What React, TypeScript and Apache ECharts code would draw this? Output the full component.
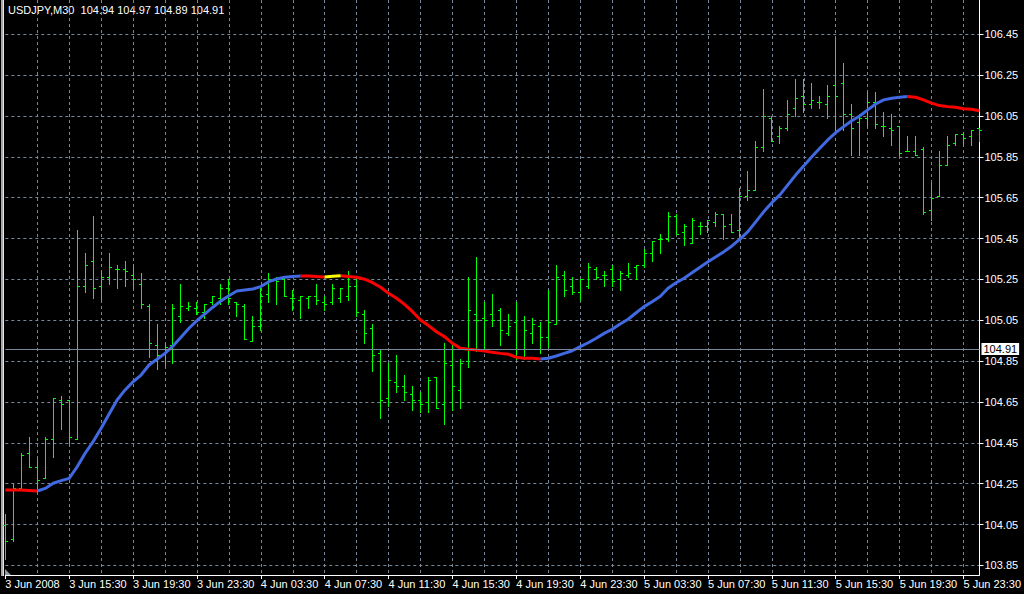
import React, { useEffect, useRef } from "react";
import * as echarts from "echarts";

const TITLE = "USDJPY,M30  104.94 104.97 104.89 104.91";
const currentPrice = 104.91;

const timeLabels = [
  "3 Jun 2008", "3 Jun 15:30", "3 Jun 19:30", "3 Jun 23:30",
  "4 Jun 03:30", "4 Jun 07:30", "4 Jun 11:30", "4 Jun 15:30",
  "4 Jun 19:30", "4 Jun 23:30", "5 Jun 03:30", "5 Jun 07:30",
  "5 Jun 11:30", "5 Jun 15:30", "5 Jun 19:30", "5 Jun 23:30",
];

const priceTicks = [
  103.85, 104.05, 104.25, 104.45, 104.65, 104.85, 105.05,
  105.25, 105.45, 105.65, 105.85, 106.05, 106.25, 106.45,
];

const barOpen = [
  104.05, 103.98, 104.23, 104.40, 104.33, 104.28, 104.47, 104.66, 104.66, 104.47,
  105.22, 105.34, 105.22, 105.26, 105.30, 105.30, 105.27, 105.23, 105.12, 104.93,
  104.89, 104.93, 105.07, 105.11, 105.11, 105.09, 105.14, 105.16, 105.21, 105.14,
  105.12, 104.95, 105.02, 105.18, 105.25, 105.25, 105.16, 105.15, 105.16, 105.17,
  105.14, 105.14, 105.16, 105.17, 105.22, 105.08, 105.01, 104.89, 104.67, 104.75,
  104.73, 104.69, 104.66, 104.65, 104.77, 104.64, 104.83, 104.71, 104.85, 105.08,
  105.06, 105.08, 105.10, 104.99, 105.04, 104.87, 104.99, 105.02, 104.97, 105.03,
  105.27, 105.22, 105.19, 105.22, 105.30, 105.27, 105.30, 105.25, 105.27, 105.31,
  105.32, 105.38, 105.45, 105.45, 105.56, 105.48, 105.43, 105.51, 105.51, 105.53,
  105.57, 105.52, 105.49, 105.66, 105.69, 105.90, 106.04, 105.95, 105.99, 106.09,
  106.15, 106.11, 106.12, 106.11, 106.20, 106.21, 106.06, 106.02, 106.04, 106.12,
  106.00, 105.99, 106.00, 105.88, 105.88, 105.89, 105.59, 105.66, 105.81, 105.92,
  105.96, 105.95, 105.99,
];

const barHigh = [
  104.10, 104.25, 104.40, 104.48, 104.37, 104.48, 104.67, 104.68, 104.66, 105.49,
  105.38, 105.56, 105.29, 105.38, 105.32, 105.34, 105.32, 105.28, 105.13, 105.03,
  104.94, 105.13, 105.23, 105.14, 105.14, 105.13, 105.17, 105.23, 105.25, 105.14,
  105.13, 105.07, 105.22, 105.28, 105.26, 105.26, 105.20, 105.17, 105.17, 105.23,
  105.17, 105.23, 105.21, 105.29, 105.26, 105.10, 105.03, 104.91, 104.84, 104.88,
  104.78, 104.73, 104.70, 104.77, 104.77, 104.94, 104.93, 104.86, 105.26, 105.36,
  105.14, 105.18, 105.11, 105.08, 105.14, 105.07, 105.06, 105.04, 105.20, 105.32,
  105.29, 105.26, 105.25, 105.33, 105.31, 105.29, 105.32, 105.29, 105.33, 105.32,
  105.40, 105.44, 105.47, 105.58, 105.57, 105.52, 105.55, 105.53, 105.54, 105.58,
  105.57, 105.57, 105.70, 105.78, 105.93, 106.18, 106.05, 106.00, 106.13, 106.23,
  106.23, 106.21, 106.15, 106.20, 106.43, 106.31, 106.11, 106.06, 106.17, 106.17,
  106.07, 106.06, 106.00, 105.95, 105.95, 105.90, 105.72, 105.88, 105.95, 105.96,
  105.97, 105.98, 105.99,
];

const barLow = [
  103.88, 103.97, 104.23, 104.33, 104.21, 104.28, 104.38, 104.52, 104.45, 104.47,
  105.19, 105.16, 105.15, 105.23, 105.21, 105.22, 105.21, 105.11, 104.87, 104.81,
  104.83, 104.84, 105.04, 105.10, 105.08, 105.06, 105.13, 105.13, 105.13, 105.07,
  104.96, 104.95, 105.00, 105.14, 105.13, 105.17, 105.10, 105.06, 105.11, 105.13,
  105.10, 105.13, 105.14, 105.15, 105.07, 104.94, 104.80, 104.57, 104.63, 104.70,
  104.66, 104.61, 104.60, 104.60, 104.62, 104.54, 104.61, 104.62, 104.82, 104.90,
  104.90, 105.02, 104.93, 104.98, 104.86, 104.86, 104.94, 104.89, 104.92, 105.03,
  105.17, 105.18, 105.15, 105.21, 105.25, 105.22, 105.22, 105.20, 105.26, 105.25,
  105.31, 105.34, 105.38, 105.44, 105.47, 105.42, 105.43, 105.47, 105.48, 105.51,
  105.45, 105.48, 105.45, 105.64, 105.69, 105.88, 105.93, 105.92, 105.98, 106.05,
  106.07, 106.09, 106.09, 106.04, 105.98, 105.98, 105.86, 105.86, 106.00, 105.99,
  105.95, 105.91, 105.86, 105.88, 105.86, 105.57, 105.54, 105.66, 105.81, 105.91,
  105.91, 105.91, 105.93,
];

const barClose = [
  103.97, 104.23, 104.39, 104.33, 104.27, 104.47, 104.67, 104.64, 104.48, 105.22,
  105.32, 105.21, 105.26, 105.31, 105.30, 105.29, 105.25, 105.13, 104.94, 104.88,
  104.92, 105.11, 105.12, 105.12, 105.09, 105.13, 105.17, 105.21, 105.16, 105.13,
  104.96, 105.02, 105.17, 105.25, 105.24, 105.17, 105.16, 105.17, 105.17, 105.15,
  105.13, 105.21, 105.21, 105.22, 105.09, 104.99, 104.88, 104.66, 104.76, 104.73,
  104.70, 104.66, 104.64, 104.76, 104.62, 104.84, 104.73, 104.84, 105.10, 105.05,
  105.05, 105.05, 105.00, 105.02, 104.87, 105.00, 105.03, 104.97, 105.04, 105.26,
  105.20, 105.19, 105.25, 105.31, 105.26, 105.27, 105.24, 105.28, 105.28, 105.32,
  105.38, 105.44, 105.45, 105.56, 105.47, 105.51, 105.54, 105.51, 105.54, 105.57,
  105.51, 105.48, 105.66, 105.69, 105.90, 106.05, 105.93, 105.99, 106.06, 106.14,
  106.11, 106.13, 106.12, 106.15, 106.15, 106.06, 105.99, 106.04, 106.12, 106.01,
  106.00, 105.98, 105.87, 105.88, 105.86, 105.58, 105.65, 105.81, 105.91, 105.96,
  105.94, 105.98, 105.98,
];

const maValues = [
  104.219, 104.219, 104.219, 104.217, 104.214, 104.227, 104.252, 104.265, 104.276, 104.333,
  104.399, 104.456, 104.521, 104.591, 104.660, 104.709, 104.749, 104.782, 104.831, 104.859,
  104.888, 104.924, 104.967, 105.011, 105.048, 105.081, 105.114, 105.145, 105.170, 105.193,
  105.198, 105.203, 105.215, 105.239, 105.252, 105.261, 105.264, 105.267, 105.267, 105.264,
  105.262, 105.265, 105.268, 105.264, 105.261, 105.251, 105.234, 105.212, 105.182, 105.158,
  105.128, 105.092, 105.051, 105.024, 104.994, 104.970, 104.937, 104.913, 104.908, 104.905,
  104.900, 104.893, 104.888, 104.884, 104.869, 104.864, 104.864, 104.860, 104.864, 104.875,
  104.888, 104.901, 104.921, 104.940, 104.962, 104.986, 105.006, 105.032, 105.055, 105.087,
  105.117, 105.141, 105.166, 105.207, 105.234, 105.256, 105.283, 105.310, 105.337, 105.361,
  105.386, 105.414, 105.447, 105.484, 105.533, 105.582, 105.626, 105.664, 105.713, 105.762,
  105.806, 105.851, 105.892, 105.933, 105.969, 105.998, 106.027, 106.050, 106.080, 106.109,
  106.129, 106.137, 106.142, 106.145, 106.142, 106.129, 106.113, 106.101, 106.096, 106.093,
  106.086, 106.083, 106.076,
];

// trend colour of the segment ending at each bar: r = falling, b = rising, y = flat
const maTrend = (
  "rrrrr" +
  "bbbbbbbbbbbbbbbbbbbbbbbbbbbbbbbbb" +
  "rrr" +
  "yy" +
  "rrrrrrrrrrrrrrrrrrrrrrrrr" +
  "bbbbbbbbbbbbbbbbbbbbbbbbbbbbbbbbbbbbbbbbbbbbbb" +
  "rrrrrrrrr"
).split("");

const BG = "#000000";
const GRID = "#778899";
const BAR = "#00ff00";
const FONT = "'Liberation Sans Narrow', 'Liberation Sans', Arial, sans-serif";

const barTimes = barOpen.map((_, i) => {
  const t = new Date(Date.UTC(2008, 5, 3, 11, 30) + i * 30 * 60000);
  const hh = String(t.getUTCHours()).padStart(2, "0");
  const mm = String(t.getUTCMinutes()).padStart(2, "0");
  return `${t.getUTCDate()} Jun ${hh}:${mm}`;
});

function trendSeries(code: string) {
  return maValues.map((v, i) =>
    maTrend[i] === code || maTrend[i + 1] === code ? v : null
  );
}

export default function App() {
  const ref = useRef<HTMLDivElement>(null);

  useEffect(() => {
    if (!ref.current) return;
    const chart = echarts.init(ref.current, null, { renderer: "svg" });

    const ohlc = barOpen.map((o, i) => [i, o, barHigh[i], barLow[i], barClose[i]]);

    const renderOhlc = (params: any, api: any) => {
      const idx = api.value(0);
      const pO = api.coord([idx, api.value(1)]);
      const pH = api.coord([idx, api.value(2)]);
      const pL = api.coord([idx, api.value(3)]);
      const pC = api.coord([idx, api.value(4)]);
      const x = Math.floor(pO[0]) + 0.5;
      const r = (v: number) => Math.round(v) + 0.5;
      const st = { stroke: BAR, lineWidth: 1 };
      return {
        type: "group",
        children: [
          { type: "line", shape: { x1: x, y1: Math.round(pH[1]), x2: x, y2: Math.round(pL[1]) + 1 }, style: st },
          { type: "line", shape: { x1: x - 2.5, y1: r(pO[1]), x2: x, y2: r(pO[1]) }, style: st },
          { type: "line", shape: { x1: x, y1: r(pC[1]), x2: x + 2.5, y2: r(pC[1]) }, style: st },
        ],
      };
    };

    const lineBase = {
      type: "line",
      symbol: "none",
      connectNulls: false,
      z: 4,
      silent: true,
    };

    chart.setOption({
      animation: false,
      backgroundColor: BG,
      textStyle: { fontFamily: FONT },
      grid: { left: 5.3, right: 42.7, top: 0, bottom: 19 },
      xAxis: {
        type: "category",
        data: barTimes,
        boundaryGap: false,
        axisLine: { show: true, lineStyle: { color: "#ffffff", width: 1 } },
        axisTick: {
          show: true,
          length: 4,
          interval: (i: number) => i % 8 === 0,
          lineStyle: { color: "#ffffff" },
        },
        axisLabel: {
          show: true,
          interval: (i: number) => i % 8 === 0,
          formatter: (_v: string, i: number) => timeLabels[i / 8] ?? "",
          color: "#ffffff",
          fontSize: 11,
          fontFamily: FONT,
          align: "left",
          margin: 3,
        },
        splitLine: {
          show: true,
          interval: (i: number) => i % 4 === 0 && i !== 0,
          lineStyle: { color: GRID, type: [3, 3], width: 1 },
        },
      },
      yAxis: {
        type: "value",
        position: "right",
        min: 103.803,
        max: 106.618,
        axisLine: { show: true, lineStyle: { color: "#ffffff", width: 1 } },
        axisTick: {
          show: true,
          length: 4,
          customValues: priceTicks,
          lineStyle: { color: "#ffffff" },
        },
        axisLabel: {
          show: true,
          customValues: priceTicks,
          formatter: (v: number) => v.toFixed(2),
          color: "#ffffff",
          fontSize: 11,
          fontFamily: FONT,
          margin: 5,
        },
        splitLine: {
          show: true,
          lineStyle: { color: GRID, type: [3, 3], width: 1 },
        },
      },
      series: [
        {
          type: "custom",
          name: "bars",
          renderItem: renderOhlc,
          data: ohlc,
          encode: { x: 0, y: [1, 2, 3, 4] },
          z: 3,
          silent: true,
          markLine: {
            silent: true,
            symbol: ["none", "none"],
            animation: false,
            lineStyle: { color: GRID, type: "solid", width: 1 },
            label: {
              show: true,
              position: "end",
              formatter: currentPrice.toFixed(2),
              color: "#000000",
              backgroundColor: "#ffffff",
              padding: [1, 2, 0, 2],
              distance: 2,
              fontSize: 11,
              fontFamily: FONT,
            },
            data: [{ yAxis: currentPrice }],
          },
        },
        { ...lineBase, name: "ma-up", data: trendSeries("b"), lineStyle: { color: "#4169e1", width: 3 }, itemStyle: { color: "#4169e1" } },
        { ...lineBase, name: "ma-down", data: trendSeries("r"), lineStyle: { color: "#ff0000", width: 3 }, itemStyle: { color: "#ff0000" } },
        { ...lineBase, name: "ma-flat", data: trendSeries("y"), lineStyle: { color: "#ffff00", width: 3 }, itemStyle: { color: "#ffff00" } },
      ],
      graphic: [
        { type: "rect", shape: { x: 1, y: 0, width: 2, height: 576 }, style: { fill: "#a8a8a8" }, silent: true },
        { type: "rect", shape: { x: 3, y: 0, width: 1, height: 576 }, style: { fill: "#e8e8e8" }, silent: true },
        {
          type: "polygon",
          shape: { points: [[5, 569], [5, 575], [11, 575]] },
          style: { fill: "#8a9aa8" },
          silent: true,
        },
        {
          type: "text",
          x: 8,
          y: 4,
          style: { text: TITLE, fill: "#ffffff", font: `11px ${FONT}`, textVerticalAlign: "top" },
          silent: true,
        },
      ],
    });

    return () => chart.dispose();
  }, []);

  return (
    <div
      ref={ref}
      style={{ position: "absolute", left: 0, top: 0, width: 1024, height: 594, background: BG }}
    />
  );
}
